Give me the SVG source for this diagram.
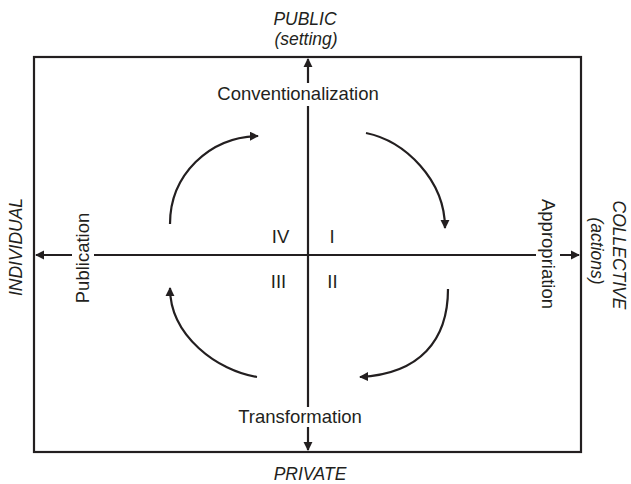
<svg xmlns="http://www.w3.org/2000/svg" width="631" height="484" viewBox="0 0 631 484">
<defs>
<style>
.ln{stroke:#231f20;stroke-width:2.2;fill:none}
.arc{stroke:#231f20;stroke-width:2.2;fill:none}
.t{font-family:"Liberation Sans",Arial,sans-serif;font-size:18.5px;fill:#231f20}
.ax{font-family:"Liberation Sans",Arial,sans-serif;font-size:17.5px;font-style:italic;fill:#231f20}
.bg{fill:#ffffff}
</style>
<marker id="ah" viewBox="0 0 10 10" refX="9" refY="5" markerWidth="4.2" markerHeight="4.2" markerUnits="strokeWidth" orient="auto">
<path d="M0,0 L10,5 L0,10 Z" fill="#231f20"/>
</marker>
</defs>
<rect width="631" height="484" fill="#ffffff"/>
<g id="frame">
<rect x="34" y="57" width="547" height="395" class="ln"/>
</g>
<g id="connectors">
<line x1="308" y1="255" x2="308" y2="59" class="ln" marker-end="url(#ah)"/>
<line x1="308" y1="255" x2="308" y2="450" class="ln" marker-end="url(#ah)"/>
<line x1="308" y1="255" x2="36" y2="255" class="ln" marker-end="url(#ah)"/>
<line x1="308" y1="255" x2="579" y2="255" class="ln" marker-end="url(#ah)"/>
<path d="M170,224 C170,175 209,137 258,136" class="arc" marker-end="url(#ah)"/>
<path d="M366,133 C405,141 445,180 445,228" class="arc" marker-end="url(#ah)"/>
<path d="M448,289 C448,340 420,374 360,377" class="arc" marker-end="url(#ah)"/>
<path d="M257,377 C218,371 170,336 170,288" class="arc" marker-end="url(#ah)"/>
</g>
<g id="node-conventionalization">
<rect x="210" y="83" width="176" height="23" class="bg"/>
<text x="298" y="100" text-anchor="middle" class="t">Conventionalization</text>
</g>
<g id="node-transformation">
<rect x="234" y="407" width="132" height="20" class="bg"/>
<text x="300" y="423" text-anchor="middle" class="t">Transformation</text>
</g>
<g id="node-publication">
<rect x="72" y="210" width="22" height="96" class="bg"/>
<text transform="translate(89,258) rotate(-90)" text-anchor="middle" class="t">Publication</text>
</g>
<g id="node-appropriation">
<rect x="536" y="194" width="24" height="122" class="bg"/>
<text transform="translate(542,254) rotate(90)" text-anchor="middle" class="t">Appropriation</text>
</g>
<g id="quadrants">
<text x="280.5" y="243" text-anchor="middle" class="t">IV</text>
<text x="332" y="243" text-anchor="middle" class="t">I</text>
<text x="278.5" y="288" text-anchor="middle" class="t">III</text>
<text x="332.5" y="288" text-anchor="middle" class="t">II</text>
</g>
<g id="axis-labels">
<text x="305" y="25" text-anchor="middle" class="ax">PUBLIC</text>
<text x="306" y="45" text-anchor="middle" class="ax">(setting)</text>
<text x="310" y="480" text-anchor="middle" class="ax">PRIVATE</text>
<text transform="translate(22,247) rotate(-90)" text-anchor="middle" class="ax">INDIVIDUAL</text>
<text transform="translate(613,255) rotate(90)" text-anchor="middle" class="ax">COLLECTIVE</text>
<text transform="translate(591,251) rotate(90)" text-anchor="middle" class="ax">(actions)</text>
</g>
</svg>
